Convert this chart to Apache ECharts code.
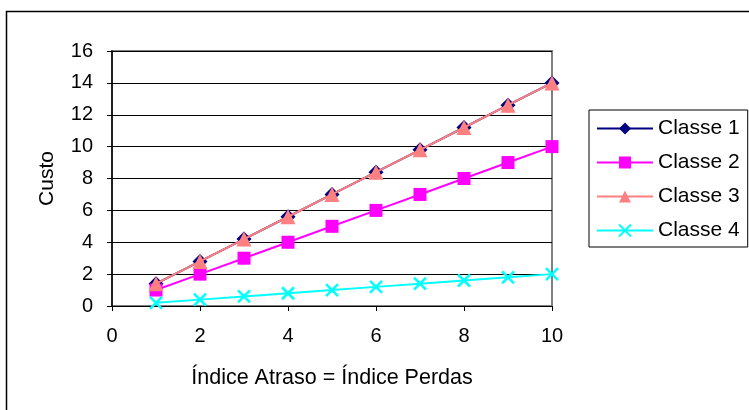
<!DOCTYPE html>
<html><head><meta charset="utf-8">
<script src="https://cdn.jsdelivr.net/npm/echarts@6/dist/echarts.min.js"></script>
<style>html,body{margin:0;padding:0;background:#fff}#c{width:749px;height:410px}</style>
</head><body><div id="c"></div>
<script>
const xValues = [1, 2, 3, 4, 5, 6, 7, 8, 9, 10];
const classe1 = [1.4, 2.8, 4.2, 5.6, 7.0, 8.4, 9.8, 11.2, 12.6, 14.0];
const classe2 = [1, 2, 3, 4, 5, 6, 7, 8, 9, 10];
const classe3 = [1.4, 2.8, 4.2, 5.6, 7.0, 8.4, 9.8, 11.2, 12.6, 14.0];
const classe4 = [0.2, 0.4, 0.6, 0.8, 1.0, 1.2, 1.4, 1.6, 1.8, 2.0];
const seriesNames = ['Classe 1', 'Classe 2', 'Classe 3', 'Classe 4'];
const xTitle = 'Índice Atraso = Índice Perdas';
const yTitle = 'Custo';

const pair = arr => xValues.map((x, i) => [x, arr[i]]);
const font = 'Liberation Sans, Arial, sans-serif';
const crossPath = 'path://M0,0L10,10M10,0L0,10';

const chart = echarts.init(document.getElementById('c'), null, {renderer: 'canvas'});
chart.setOption({
  animation: false,
  backgroundColor: '#fff',
  textStyle: {fontFamily: font},
  graphic: [{
    type: 'rect', shape: {x: 6.5, y: 11.5, width: 800, height: 500},
    style: {fill: 'none', stroke: '#000', lineWidth: 1.5}, silent: true, z: -1
  }, {
    type: 'rect', shape: {x: 112, y: 51, width: 440, height: 255},
    style: {fill: 'none', stroke: '#808080', lineWidth: 2}, silent: true, z: 0
  }],
  grid: {left: 112, right: 197, top: 51, bottom: 104, containLabel: false},
  legend: {
    orient: 'vertical', left: 589, top: 110,
    itemWidth: 56, itemHeight: 15, itemGap: 13,
    padding: [8, 8, 6, 7],
    borderColor: '#000', borderWidth: 1, backgroundColor: '#fff',
    textStyle: {fontFamily: font, fontSize: 21, color: '#000'},
    data: seriesNames
  },
  xAxis: {
    type: 'value', min: 0, max: 10, interval: 2,
    name: xTitle, nameLocation: 'middle', nameGap: 61,
    nameTextStyle: {fontFamily: font, fontSize: 21.5, color: '#000'},
    axisLine: {show: true, onZero: false, lineStyle: {color: '#000', width: 1}},
    axisTick: {show: true, inside: false, length: 5, lineStyle: {color: '#000'}},
    axisLabel: {fontFamily: font, fontSize: 20, color: '#000', margin: 20},
    splitLine: {show: false}
  },
  yAxis: {
    type: 'value', min: 0, max: 16, interval: 2,
    name: yTitle, nameLocation: 'middle', nameGap: 54, nameRotate: 90,
    nameTextStyle: {fontFamily: font, fontSize: 21, color: '#000'},
    axisLine: {show: true, lineStyle: {color: '#000', width: 1.5}},
    axisTick: {show: true, inside: false, length: 5, lineStyle: {color: '#000'}},
    axisLabel: {fontFamily: font, fontSize: 20, color: '#000', margin: 19},
    splitLine: {show: true, lineStyle: {color: '#000', width: 1}}
  },
  series: [
    {name: seriesNames[0], type: 'line', data: pair(classe1), symbol: 'diamond', symbolSize: 15,
     lineStyle: {color: '#000080', width: 2}, itemStyle: {color: '#000080'}, z: 2},
    {name: seriesNames[1], type: 'line', data: pair(classe2), symbol: 'rect', symbolSize: 13,
     lineStyle: {color: '#FF00FF', width: 2}, itemStyle: {color: '#FF00FF'}, z: 3},
    {name: seriesNames[2], type: 'line', data: pair(classe3), symbol: 'triangle', symbolSize: 15,
     lineStyle: {color: '#FF8080', width: 2}, itemStyle: {color: '#FF8080'}, z: 4},
    {name: seriesNames[3], type: 'line', data: pair(classe4), symbol: crossPath, symbolSize: 12,
     lineStyle: {color: '#00FFFF', width: 2},
     itemStyle: {color: '#00FFFF', borderColor: '#00FFFF', borderWidth: 2.5}, z: 5}
  ]
});
</script></body></html>
